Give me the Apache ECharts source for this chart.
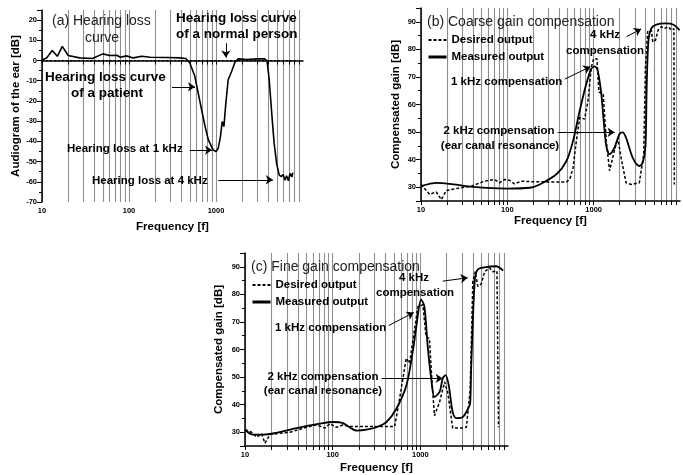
<!DOCTYPE html>
<html>
<head>
<meta charset="utf-8">
<script src="https://cdn.jsdelivr.net/npm/echarts@6/dist/echarts.min.js"></script>
<style>
  html, body { margin: 0; padding: 0; background: #fff; }
  #chart { width: 683px; height: 475px; }
</style>
</head>
<body>
<div id="chart"></div>
<script>
// tick values
const gridFreqs = [10, 20, 30, 40, 50, 60, 70, 80, 90, 100, 200, 300, 400, 500, 600, 700, 800, 900,
  1000, 2000, 3000, 4000, 5000, 6000, 7000, 8000, 9000];
const freqLabels = [10, 100, 1000];

// (a) hearing loss
const normalFreq = [10, 8700];
const normalLoss = [0, 0];
const patientFreq = [10, 11.3, 13.1, 15, 17.1, 20, 27, 38, 50, 60, 72, 80, 93, 112, 140, 175, 272, 385, 450, 500,
  571, 624, 683, 750, 817, 930, 1000, 1060, 1125, 1178, 1233, 1288, 1380, 1515, 1650, 1800, 2270, 2960, 3620,
  3870, 4090, 4370, 4660, 4980, 5330, 5640, 5900, 6200, 6480, 6800, 7100, 7460, 7630];
const patientLoss = [0.3, 1.3, 5, 2.1, 7, 2.5, 1.3, 1, 3.3, 2.5, 2.6, 1.6, 2.3, 1.3, 2.1, 1.6, 1.5, 1.3, 1, -1.2,
  -7.8, -16, -24.4, -32.7, -39.3, -44.3, -45, -43.5, -37.7, -30.2, -32.7, -22.7, -9.5, -5.3, -0.8, 0.8, 0.5, 0.8, 0.8,
  -0.3, -9.5, -26, -41, -51, -56.7, -57.5, -56.4, -59.2, -57, -59.5, -55.9, -57.5, -55.5];

// (b) coarse gain compensation
const bDesFreq = [10, 12.6, 15, 17.2, 19.6, 26.8, 38.2, 54.6, 71, 81, 93, 106, 121, 145, 189, 323, 484, 530, 577,
  630, 690, 785, 860, 940, 1000, 1090, 1150, 1290, 1400, 1530, 1660, 1900, 2080, 2370, 2730, 3380, 3800, 3980,
  4220, 4650, 4850, 5200, 5580, 6070, 6680, 7300, 7960, 8500, 8600];
const bDesGain = [31, 27.4, 28.3, 25.5, 28.8, 29.6, 30.4, 32.2, 32.8, 31.6, 32.8, 32.5, 31.2, 32.2, 32, 31.9, 31.9, 33, 37,
  46.8, 55.3, 54.7, 61.4, 73.6, 76.6, 76.6, 64.5, 63.9, 46.8, 36, 40.7, 48, 40.7, 31.6, 31, 31.6, 42, 73.6,
  86.4, 87, 82.7, 83.3, 87, 88.2, 87.6, 88.2, 87, 87.5, 31];
const bMeasFreq = [10, 15.2, 21.6, 40, 98, 182, 237, 370, 484, 577, 690, 822, 940, 1030, 1110, 1220, 1290, 1400,
  1530, 1745, 1990, 2170, 2370, 2830, 3380, 3700, 3980, 4110, 4300, 4650, 5330, 6860, 8300, 9900];
const bMeasGain = [30.4, 31.6, 31.2, 30.1, 29.5, 29.8, 31, 34.7, 39.5, 46.8, 57.8, 67.5, 73, 73.8, 72.4, 64.5, 56, 45,
  42, 44.4, 49.3, 49.9, 48, 40.7, 37.7, 38.9, 45, 65.7, 82.7, 87.6, 89, 89.4, 89, 87];

// (c) fine gain compensation
const cDesFreq = [10, 11.9, 13.6, 15.5, 16.9, 19.3, 32.6, 50.4, 65.5, 81.4, 93, 110, 131, 157, 289, 510, 580, 690,
  753, 840, 940, 1070, 1160, 1270, 1350, 1450, 1660, 1890, 2050, 2340, 3050, 3350, 3700, 3970, 4230, 4520, 4960,
  5400, 6160, 6710, 7480, 7790];
const cDesGain = [30.9, 30, 28.2, 29.4, 26, 29.2, 30, 31.8, 32.7, 31.5, 33.1, 31.8, 32.6, 32.1, 32.1, 32.1, 42.2, 56.8,
  55, 65.3, 75.6, 76.2, 64.7, 64, 49.5, 36, 41, 48.2, 44.6, 31.5, 31.5, 31.8, 45.2, 84.7, 88.2, 82.9, 83.8,
  88.2, 89.6, 88.2, 88.5, 31.8];
const cMeasFreq = [10, 12.4, 16.2, 22.9, 38.8, 71.5, 101, 131, 187, 243, 316, 411, 533, 694, 830, 900, 1020, 1112,
  1220, 1330, 1450, 1660, 1800, 1940, 2110, 2340, 2580, 3050, 3500, 3700, 3800, 4170, 4520, 5600, 7300, 8800];
const cMeasGain = [30.9, 29.1, 29.1, 29.8, 31.5, 33.1, 33.7, 33.3, 30.6, 30.9, 31.8, 33.7, 38.5, 47, 60.4, 68.3, 78.1, 75.6,
  60.4, 49.5, 42.8, 44.6, 49.5, 50.7, 47, 37.3, 35.1, 35.5, 38.5, 40.4, 53.1, 84.7, 89, 89.9, 90.2, 88.6];

const chart = echarts.init(document.getElementById('chart'));
const FONT = 'Liberation Sans';
const CSSFONT = '"Liberation Sans", Arial, sans-serif';

function pairs(xs, ys) {
  return xs.map((x, i) => [x, ys[i]]);
}

function xAxisFor(gridIndex, nameGap) {
  return {
    type: 'log',
    logBase: 10,
    gridIndex,
    min: 10,
    max: 10000,
    name: 'Frequency [f]',
    nameLocation: 'middle',
    nameGap,
    nameTextStyle: { fontFamily: FONT, fontWeight: 'bold', fontSize: 11.5, color: '#000' },
    axisLine: { lineStyle: { color: '#000', width: 1.5 } },
    axisTick: { customValues: gridFreqs, length: 4, lineStyle: { color: '#000', width: 1 } },
    axisLabel: {
      margin: 5,
      fontFamily: FONT, fontWeight: 'bold', fontSize: 7.5, color: '#000',
      formatter: v => freqLabels.includes(Math.round(v)) ? String(Math.round(v)) : ''
    },
    splitLine: { show: true, lineStyle: { color: '#8f8f8f', width: 1.1 } }
  };
}

function yAxisFor(gridIndex, name, nameGap, extra) {
  return Object.assign({
    type: 'value',
    gridIndex,
    name,
    nameLocation: 'middle',
    nameGap,
    nameTextStyle: { fontFamily: FONT, fontWeight: 'bold', fontSize: 11.5, color: '#000' },
    axisLine: { show: true, lineStyle: { color: '#000', width: 1.5 } },
    axisTick: { show: true, length: 5, lineStyle: { color: '#000', width: 1 } },
    minorTick: { show: true, splitNumber: 2, length: 3, lineStyle: { color: '#000', width: 1 } },
    axisLabel: {
      margin: 5,
      fontFamily: FONT, fontWeight: 'bold', fontSize: 7.5, color: '#000',
      formatter: v => (v % 10 === 0 ? String(v) : '')
    },
    splitLine: { show: false }
  }, extra);
}

function arrows(list) {
  return {
    silent: true,
    animation: false,
    symbol: ['none', 'arrow'],
    symbolSize: 7,
    label: { show: false },
    itemStyle: { color: '#000' },
    lineStyle: { color: '#000', width: 1, type: 'solid' },
    emphasis: { disabled: true },
    data: list.map(a => [{ coord: a[0] }, { coord: a[1] }])
  };
}

function txt(x, y, text, size, bold, align) {
  return {
    type: 'text', x, y, silent: true, z: 50,
    style: {
      text,
      fill: bold ? '#000' : '#222',
      font: (bold ? 'bold ' : '') + size + 'px ' + CSSFONT,
      textAlign: align || 'left', align: align || 'left',
      textVerticalAlign: 'middle', verticalAlign: 'middle'
    }
  };
}

const dashed = { color: '#000', width: 1.5, type: [3, 2] };
const solid = { color: '#000', width: 1.8 };
const legendText = { fontFamily: FONT, fontWeight: 'bold', fontSize: 11.5, color: '#000' };
const legendData = [
  { name: 'Desired output', lineStyle: { width: 2 } },
  { name: 'Measured output', lineStyle: { width: 3 } }
];

function legendAt(left, top) {
  return {
    left, top, padding: 0, orient: 'vertical',
    itemWidth: 18, itemHeight: 12, itemGap: 5,
    data: legendData, textStyle: legendText, selectedMode: false,
    itemStyle: { opacity: 0 }
  };
}

const option = {
  animation: false,
  backgroundColor: '#fff',
  grid: [
    { left: 42, top: 10, width: 261, height: 192, outerBoundsMode: 'none' },
    { left: 421, top: 8, width: 259, height: 193, outerBoundsMode: 'none' },
    { left: 245, top: 253, width: 263, height: 193, outerBoundsMode: 'none' }
  ],
  xAxis: [xAxisFor(0, 19), xAxisFor(1, 14), xAxisFor(2, 16)],
  yAxis: [
    yAxisFor(0, 'Audiogram of the ear [dB]', 20, { min: -70, max: 25, interval: 10 }),
    yAxisFor(1, 'Compensated gain [dB]', 19.5, { min: 25, max: 95, splitNumber: 7 }),
    yAxisFor(2, 'Compensated gain [dB]', 20.5, { min: 25, max: 95, splitNumber: 7 })
  ],
  legend: [legendAt(427, 34), legendAt(251, 279)],
  series: [
    {
      name: 'Normal', type: 'line', xAxisIndex: 0, yAxisIndex: 0, symbol: 'none',
      data: pairs(normalFreq, normalLoss), lineStyle: { color: '#000', width: 1, type: [2, 2] }, z: 3
    },
    {
      name: 'Patient', type: 'line', xAxisIndex: 0, yAxisIndex: 0, symbol: 'none',
      data: pairs(patientFreq, patientLoss), lineStyle: { color: '#000', width: 1.6 }, z: 4,
      markLine: arrows([
        [[1300, 8.5], [1300, 1.5]],
        [[312, -13], [574, -13]],
        [[500, -44.3], [900, -44.3]],
        [[1060, -59], [4500, -59]]
      ])
    },
    {
      name: 'Desired output', type: 'line', xAxisIndex: 1, yAxisIndex: 1, symbol: 'none',
      data: pairs(bDesFreq, bDesGain), lineStyle: dashed, itemStyle: { color: '#000' }, z: 3
    },
    {
      name: 'Measured output', type: 'line', xAxisIndex: 1, yAxisIndex: 1, symbol: 'none', smooth: 0.3,
      data: pairs(bMeasFreq, bMeasGain), lineStyle: solid, itemStyle: { color: '#000' }, z: 4,
      markLine: arrows([
        [[2400, 84.6], [3550, 87.4]],
        [[462, 69.2], [916, 73.7]],
        [[384, 49.9], [1750, 49.9]]
      ])
    },
    {
      name: 'Desired output', type: 'line', xAxisIndex: 2, yAxisIndex: 2, symbol: 'none',
      data: pairs(cDesFreq, cDesGain), lineStyle: dashed, itemStyle: { color: '#000' }, z: 3
    },
    {
      name: 'Measured output', type: 'line', xAxisIndex: 2, yAxisIndex: 2, symbol: 'none', smooth: 0.3,
      data: pairs(cMeasFreq, cMeasGain), lineStyle: solid, itemStyle: { color: '#000' }, z: 4,
      markLine: arrows([
        [[1800, 84.8], [3467, 86]],
        [[436, 68.7], [841, 73.4]],
        [[363, 49.5], [1800, 49.5]]
      ])
    }
  ],
  graphic: [
    txt(52, 21, '(a) Hearing loss', 14, false),
    txt(102, 38, 'curve', 14, false, 'center'),
    txt(176, 18, 'Hearing loss curve', 13.5, true),
    txt(176, 34, 'of a normal person', 13.5, true),
    txt(45, 77, 'Hearing loss curve', 13.5, true),
    txt(107, 93, 'of a patient', 13.5, true, 'center'),
    txt(67, 149, 'Hearing loss at 1 kHz', 11.5, true),
    txt(92, 181, 'Hearing loss at 4 kHz', 11.5, true),

    txt(427, 22, '(b) Coarse gain compensation', 14, false),
    txt(605, 35, '4 kHz', 11.5, true, 'center'),
    txt(605, 51, 'compensation', 11.5, true, 'center'),
    txt(451, 82, '1 kHz compensation', 11.5, true),
    txt(499, 131, '2 kHz compensation', 11.5, true, 'center'),
    txt(500, 146, '(ear canal resonance)', 11.5, true, 'center'),

    txt(251, 267, '(c) Fine gain compensation', 14, false),
    txt(414, 278, '4 kHz', 11.5, true, 'center'),
    txt(415, 293, 'compensation', 11.5, true, 'center'),
    txt(275, 328, '1 kHz compensation', 11.5, true),
    txt(323, 377, '2 kHz compensation', 11.5, true, 'center'),
    txt(323, 391, '(ear canal resonance)', 11.5, true, 'center')
  ]
};

chart.setOption(option);
</script>
</body>
</html>
